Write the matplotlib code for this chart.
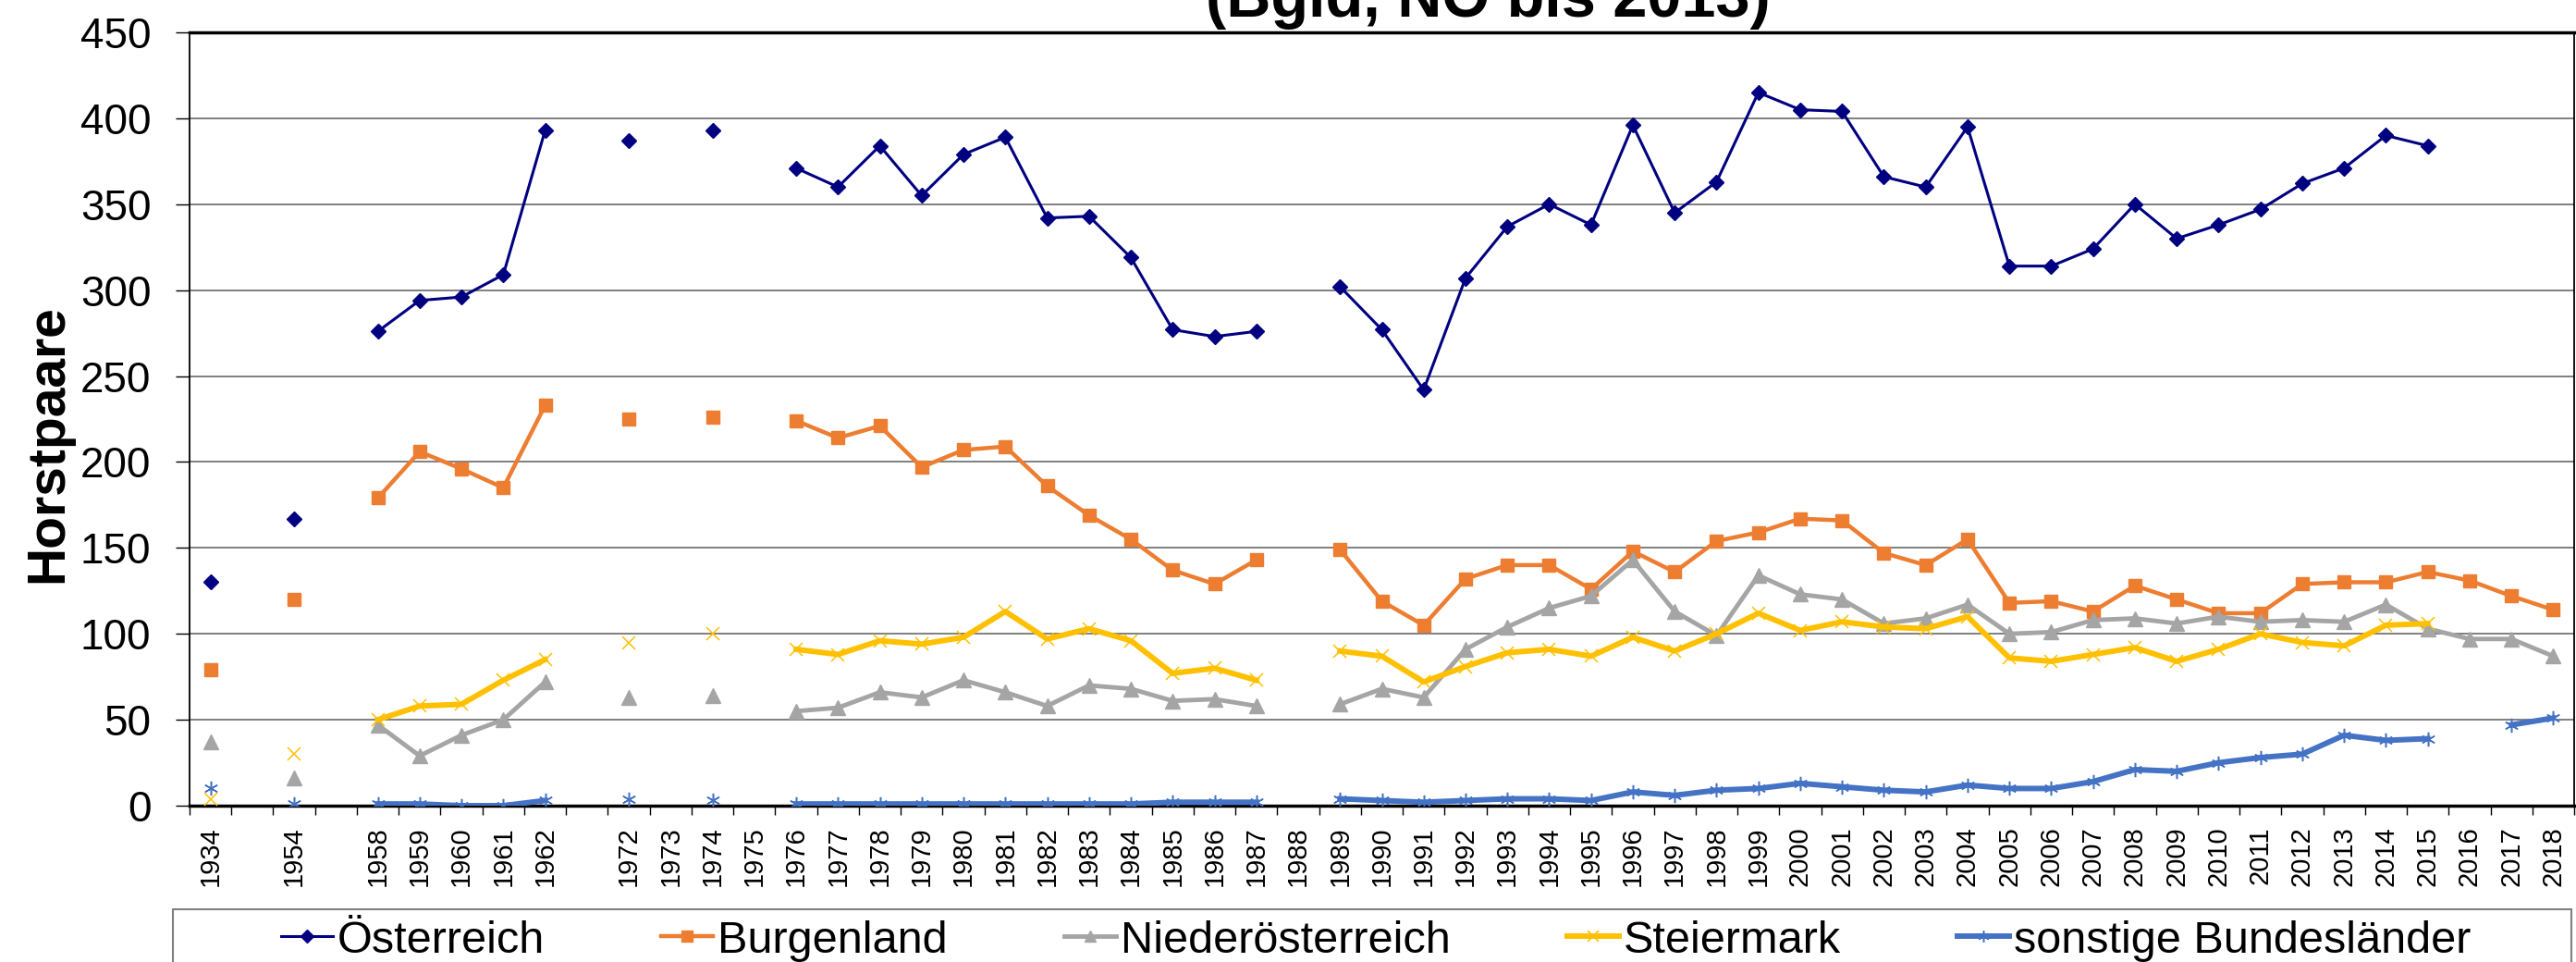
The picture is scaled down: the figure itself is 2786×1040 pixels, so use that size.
import matplotlib
matplotlib.use('Agg')
import matplotlib.pyplot as plt
import numpy as np
from matplotlib.patches import Rectangle
from matplotlib.lines import Line2D

plt.rcParams['font.family'] = ['Liberation Sans', 'DejaVu Sans']

N = None
labels = ['1934', '', '1954', '', '1958', '1959', '1960', '1961', '1962', '',
          '1972', '1973', '1974', '1975', '1976', '1977', '1978', '1979', '1980',
          '1981', '1982', '1983', '1984', '1985', '1986', '1987', '1988', '1989',
          '1990', '1991', '1992', '1993', '1994', '1995', '1996', '1997', '1998',
          '1999', '2000', '2001', '2002', '2003', '2004', '2005', '2006', '2007',
          '2008', '2009', '2010', '2011', '2012', '2013', '2014', '2015', '2016',
          '2017', '2018']

oesterreich = [130, N, 167, N, 276, 294, 296, 309, 393, N, 387, N, 393, N, 371, 360,
               384, 355, 379, 389, 342, 343, 319, 277, 273, 276, N, 302, 277, 242,
               307, 337, 350, 338, 396, 345, 363, 415, 405, 404, 366, 360, 395, 314,
               314, 324, 350, 330, 338, 347, 362, 371, 390, 384, N, N, N]
burgenland = [79, N, 120, N, 179, 206, 196, 185, 233, N, 225, N, 226, N, 224, 214,
              221, 197, 207, 209, 186, 169, 155, 137, 129, 143, N, 149, 119, 105,
              132, 140, 140, 126, 148, 136, 154, 159, 167, 166, 147, 140, 155, 118,
              119, 113, 128, 120, 112, 112, 129, 130, 130, 136, 131, 122, 114]
niederoesterreich = [37, N, 16, N, 47, 29, 41, 50, 72, N, 63, N, 64, N, 55, 57,
                     66, 63, 73, 66, 58, 70, 68, 61, 62, 58, N, 59, 68, 63,
                     91, 104, 115, 122, 143, 113, 99, 134, 123, 120, 106, 109, 117, 100,
                     101, 108, 109, 106, 110, 107, 108, 107, 117, 103, 97, 97, 87]
steiermark = [4, N, 30, N, 50, 58, 59, 73, 85, N, 95, N, 100, N, 91, 88,
              96, 94, 98, 113, 97, 103, 96, 77, 80, 73, N, 90, 87, 72,
              81, 89, 91, 87, 98, 90, 100, 112, 102, 107, 104, 103, 110, 86,
              84, 88, 92, 84, 91, 100, 95, 93, 105, 106, N, N, N]
sonstige = [10, N, 1, N, 1, 1, 0, 0, 3, N, 4, N, 3, N, 1, 1,
            1, 1, 1, 1, 1, 1, 1, 2, 2, 2, N, 4, 3, 2,
            3, 4, 4, 3, 8, 6, 9, 10, 13, 11, 9, 8, 12, 10,
            10, 14, 21, 20, 25, 28, 30, 41, 38, 39, N, 47, 51]

# name, values, colour, marker, marker size, line width, marker edge width
series = [
    ('Österreich', oesterreich, '#000080', 'D', 8.5, 2.2, 1),
    ('Burgenland', burgenland, '#ED7D31', 's', 10.5, 3.2, 1),
    ('Niederösterreich', niederoesterreich, '#A5A5A5', '^', 11, 3.5, 1),
    ('Steiermark', steiermark, '#FFC000', 'x', 10.5, 4.3, 1.1),
    ('sonstige Bundesländer', sonstige, '#4472C4', (6, 2, 0), 11, 4.3, 1.1),
]

W, H = 2786, 1040
fig = plt.figure(figsize=(W / 100, H / 100), dpi=100)
ax = fig.add_axes([205 / W, 1 - 871 / H, (2784 - 205) / W, (871 - 35) / H])

x = np.arange(len(labels))
handles = []
for name, vals, col, mk, ms, lw, mew in series:
    y = np.array([np.nan if v is None else v for v in vals], dtype=float)
    ax.plot(x, y, color=col, lw=lw, marker=mk, ms=ms, mfc=col, mec=col,
            mew=mew, zorder=3)
    handles.append(Line2D([], [], color=col, lw=lw, marker=mk, ms=ms * 0.8,
                          mfc=col, mec=col, mew=mew))

ax.set_xlim(-0.5, len(labels) - 0.5)
ax.set_ylim(0, 450)
ax.set_yticks(range(0, 451, 50))
ax.grid(axis='y', color='#7f7f7f', lw=1.4, zorder=0)
ax.set_axisbelow(True)

ax.set_xticks(x)
ax.set_xticklabels(labels, rotation=90, fontsize=21)
ax.set_xticks(np.arange(-0.5, len(labels)), minor=True)
ax.tick_params(axis='x', which='major', length=0, pad=16)
ax.tick_params(axis='x', which='minor', length=7, width=1, color='black')
ax.tick_params(axis='y', length=11, width=1, pad=19, labelsize=33)

for side in ['left', 'right']:
    ax.spines[side].set_linewidth(1.3)
ax.spines['top'].set_linewidth(2.5)
ax.spines['bottom'].set_linewidth(2.5)

fig.text(52 / W, 1 - 480 / H, 'Horstpaare', rotation=90, ha='center', va='center',
         fontsize=41, fontweight='bold')
# title line, partly above the top edge as in the original
fig.text(1609 / W, 1 - 18 / H, '(Bgld, NÖ bis 2013)', ha='center', va='baseline',
         fontsize=48, fontweight='bold')

fig.legend(handles, [s[0] for s in series], loc='center',
           bbox_to_anchor=(1488 / W, 1 - 1017 / H), ncol=5, frameon=False,
           fontsize=35, handlelength=1.15, handletextpad=0.1, columnspacing=2.6,
           borderpad=0)
fig.add_artist(Rectangle((187 / W, -0.05), (2781 - 187) / W, 0.05 + (1040 - 983) / H,
                         transform=fig.transFigure, fill=False, edgecolor='#808080',
                         lw=1.5))

fig.savefig('out.png', dpi=100)
